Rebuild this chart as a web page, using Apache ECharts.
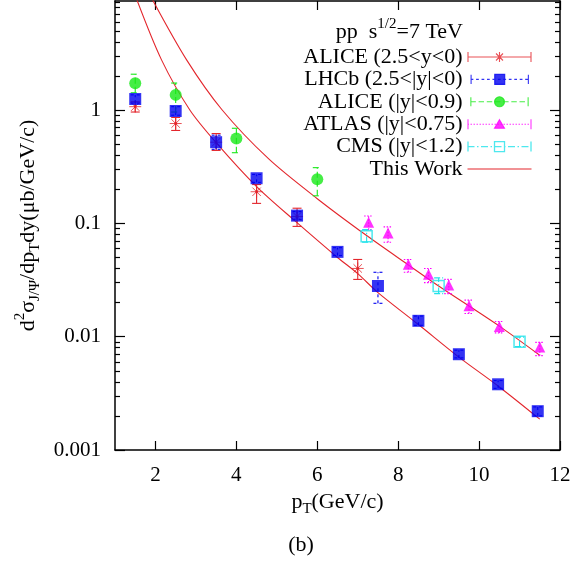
<!DOCTYPE html>
<html><head><meta charset="utf-8">
<script src="https://cdn.jsdelivr.net/npm/echarts@6/dist/echarts.min.js"></script>
<style>html,body{margin:0;padding:0;background:#fff}#c{width:579px;height:561px}</style>
</head><body><div id="c"></div>
<script>
// ---------------- data ----------------
const aliceFwdX  = [1.5, 2.5, 3.5, 4.5, 5.5, 7.0];
const aliceFwdY  = [1.07, 0.76, 0.52, 0.19, 0.115, 0.040];
const aliceFwdLo = [0.96, 0.66, 0.44, 0.15, 0.094, 0.032];
const aliceFwdHi = [1.18, 0.86, 0.62, 0.22, 0.136, 0.048];

const lhcbX  = [1.5, 2.5, 3.5, 4.5, 5.5, 6.5, 7.5, 8.5, 9.5, 10.47, 11.45];
const lhcbY  = [1.25, 0.98, 0.52, 0.25, 0.117, 0.056, 0.028, 0.0138, 0.0070, 0.0038, 0.0022];
const lhcbLo = [1.15, 0.90, 0.45, 0.23, 0.108, 0.052, 0.0197, 0.0126, 0.0065, 0.0035, 0.0020];
const lhcbHi = [1.36, 1.07, 0.60, 0.27, 0.127, 0.061, 0.037, 0.0152, 0.0076, 0.0041, 0.0024];

const aliceMidX  = [1.5, 2.5, 4.0, 6.0];
const aliceMidY  = [1.72, 1.36, 0.56, 0.245];
const aliceMidLo = [1.42, 0.96, 0.42, 0.175];
const aliceMidHi = [2.07, 1.73, 0.69, 0.31];

const atlasX  = [7.27, 7.75, 8.25, 8.75, 9.25, 9.75, 10.5, 11.5];
const atlasY  = [0.102, 0.082, 0.0436, 0.0356, 0.0285, 0.0187, 0.0123, 0.0081];
const atlasLo = [0.088, 0.068, 0.037, 0.030, 0.024, 0.016, 0.0108, 0.0068];
const atlasHi = [0.116, 0.093, 0.048, 0.040, 0.032, 0.021, 0.0136, 0.0089];

const cmsX  = [7.22, 9.0, 11.0];
const cmsY  = [0.077, 0.028, 0.009];
const cmsLo = [0.068, 0.024, 0.0082];
const cmsHi = [0.088, 0.033, 0.0099];

const workLowX  = [1.54, 2.15, 2.85, 3.51, 4.5, 5.45, 6.5, 7.0, 7.5, 8.5, 9.5, 10.5, 11.5];
const workLowY  = [9.4, 2.77, 1.0, 0.51, 0.211, 0.105, 0.050, 0.036, 0.0245, 0.0128, 0.0066, 0.0036, 0.00187];
const workHighX = [1.93, 2.77, 3.65, 4.8, 6.0, 7.22, 8.25, 9.0, 10.5, 11.49];
const workHighY = [9.35, 2.77, 1.0, 0.37, 0.165, 0.078, 0.043, 0.028, 0.0124, 0.0069];

const xTicks = [2, 4, 6, 8, 10, 12];
const yTicks = [0.001, 0.01, 0.1, 1];
const yTickLabels = ['0.001', '0.01', '0.1', '1'];
const yMinorTicks = [0.002,0.003,0.004,0.005,0.006,0.007,0.008,0.009,
                     0.02,0.03,0.04,0.05,0.06,0.07,0.08,0.09,
                     0.2,0.3,0.4,0.5,0.6,0.7,0.8,0.9,
                     2,3,4,5,6,7,8,9];
const names = ['ALICE (2.5<y<0)', 'LHCb (2.5<|y|<0)', 'ALICE (|y|<0.9)', 'ATLAS (|y|<0.75)', 'CMS (|y|<1.2)', 'This Work'];

// ---------------- style ----------------
const F = "'Liberation Serif','Times New Roman',serif";
const RED = '#e3262c', BLUE = '#0000f0', GREEN = '#18e818', MAG = '#ff00ff', CYAN = '#22e2ea';
const X_MIN = 1, X_MAX = 12, Y_MIN = 0.001, Y_MAX = 9.16;

const rich = {
  n:  {fontFamily: F, fontSize: 22, fontWeight: 'normal', color: '#000', lineHeight: 30},
  sp: {fontFamily: F, fontSize: 15, fontWeight: 'normal', color: '#000', lineHeight: 15, verticalAlign: 'top'},
  sb: {fontFamily: F, fontSize: 15, fontWeight: 'normal', color: '#000', lineHeight: 15, verticalAlign: 'bottom'}
};

function pts(xs, ys) { return xs.map((x, i) => [x, ys[i]]); }

function errSeries(name, xs, lo, hi, color, dash) {
  return {
    type: 'custom', name: name + ' err', silent: true, z: 2, clip: true,
    data: xs.map((x, i) => [x, lo[i], hi[i]]),
    encode: {x: 0, y: [1, 2]},
    renderItem: function (params, api) {
      const p1 = api.coord([api.value(0), api.value(1)]);
      const p2 = api.coord([api.value(0), api.value(2)]);
      const w = 4.5;
      const style = {stroke: color, lineWidth: 1.1, fill: null, lineDash: dash || null};
      return {type: 'group', children: [
        {type: 'line', shape: {x1: p1[0], y1: p1[1], x2: p2[0], y2: p2[1]}, style: style},
        {type: 'line', shape: {x1: p1[0] - w, y1: p1[1], x2: p1[0] + w, y2: p1[1]}, style: style},
        {type: 'line', shape: {x1: p2[0] - w, y1: p2[1], x2: p2[0] + w, y2: p2[1]}, style: style}
      ]};
    }
  };
}

function dashes(pattern) { // dashed horizontal line path between x=0..64 at y=5
  let s = '', x = 0, k = 0, on = true;
  while (x < 64) {
    const len = pattern[k % pattern.length];
    const x2 = Math.min(64, x + len);
    if (on) s += 'M' + x.toFixed(2) + ' 5L' + x2.toFixed(2) + ' 5';
    x = x2; k++; on = !on;
  }
  return s;
}
const caps = 'M0.5 0L0.5 10M63.5 0L63.5 10';
const iconAlice = 'path://' + caps + 'M0 5L64 5M32 0L32 10M27 5L37 5M28.5 1.5L35.5 8.5M35.5 1.5L28.5 8.5';
const iconLhcb  = 'path://' + caps + dashes([3, 3]) + 'M26.5 -0.5L37.5 -0.5L37.5 10.5L26.5 10.5Z';
const iconGreen = 'path://' + caps + dashes([6, 3]) + 'M26.5 5A5.5 5.5 0 1 0 37.5 5A5.5 5.5 0 1 0 26.5 5Z';
const iconAtlas = 'path://' + caps + dashes([1.5, 1.5]) + 'M32 0.5L37 9L27 9Z';
const iconCms   = 'path://' + caps + dashes([7, 2.5, 1.5, 2.5]) + 'M27 0L37 0L37 10L27 10Z';
const iconWork  = 'path://M0 0L0 0.01M64 10L64 9.99M0 5L64 5';

const option = {
  animation: false,
  backgroundColor: '#fff',
  title: [
    {text: '{n|pp  s}{sp|1/2}{n|=7 TeV}', right: 116, top: 17, padding: 0,
     textStyle: {fontWeight: 'normal', rich: rich}},
    {text: '(b)', left: 301, top: 534, textAlign: 'center', padding: 0,
     textStyle: {fontFamily: F, fontSize: 22, color: '#000', fontWeight: 'normal'}}
  ],
  grid: {left: 115, right: 19, top: 1, bottom: 111, containLabel: false},
  legend: {
    orient: 'vertical', right: 45, top: 46, align: 'right', padding: 0,
    itemWidth: 64, itemHeight: 10, itemGap: 0.4,
    textStyle: {fontFamily: F, fontSize: 22, color: '#000', lineHeight: 22},
    selectedMode: false,
    data: [
      {name: names[0], icon: iconAlice, itemStyle: {color: 'none', borderColor: RED, borderWidth: 1.1}},
      {name: names[1], icon: iconLhcb,  itemStyle: {color: BLUE, borderColor: BLUE, borderWidth: 1.1}},
      {name: names[2], icon: iconGreen, itemStyle: {color: GREEN, borderColor: GREEN, borderWidth: 1.1}},
      {name: names[3], icon: iconAtlas, itemStyle: {color: MAG, borderColor: MAG, borderWidth: 1.1}},
      {name: names[4], icon: iconCms,   itemStyle: {color: 'none', borderColor: CYAN, borderWidth: 1.3}},
      {name: names[5], icon: iconWork,  itemStyle: {color: 'none', borderColor: RED, borderWidth: 1.2}}
    ]
  },
  xAxis: [
    {type: 'value', position: 'bottom', min: X_MIN, max: X_MAX,
     name: '{n|p}{sb|T}{n|(GeV/c)}', nameLocation: 'middle', nameGap: 37,
     nameTextStyle: {rich: rich},
     axisLine: {show: true, lineStyle: {color: '#000', width: 1.5}},
     axisTick: {show: true, inside: true, length: 9, customValues: xTicks, lineStyle: {color: '#000', width: 1.2}},
     axisLabel: {show: true, customValues: xTicks, margin: 15, fontFamily: F, fontSize: 21, color: '#000'},
     splitLine: {show: false}},
    {type: 'value', position: 'top', min: X_MIN, max: X_MAX,
     axisLine: {show: true, lineStyle: {color: '#000', width: 1.5}},
     axisTick: {show: true, inside: true, length: 9, customValues: xTicks, lineStyle: {color: '#000', width: 1.2}},
     axisLabel: {show: false}, splitLine: {show: false}}
  ],
  yAxis: [
    {type: 'log', logBase: 10, position: 'left', min: Y_MIN, max: Y_MAX,
     name: '{n|d}{sp|2}{n|σ}{sb|J/Ψ}{n|/dp}{sb|T}{n|dy(μb/GeV/c)}',
     nameLocation: 'middle', nameGap: 71, nameTextStyle: {rich: rich},
     axisLine: {show: true, lineStyle: {color: '#000', width: 1.5}},
     axisTick: {show: true, inside: true, length: 10, customValues: yTicks, lineStyle: {color: '#000', width: 1.2}},
     axisLabel: {show: true, customValues: yTicks, margin: 14, fontFamily: F, fontSize: 21, color: '#000',
       formatter: function (v) {
         const i = yTicks.findIndex(t => Math.abs(Math.log10(t) - Math.log10(v)) < 1e-6);
         return i >= 0 ? yTickLabels[i] : '';
       }},
     splitLine: {show: false}},
    {type: 'log', logBase: 10, position: 'left', min: Y_MIN, max: Y_MAX,
     axisLine: {show: false},
     axisTick: {show: true, inside: true, length: 5, customValues: yMinorTicks, lineStyle: {color: '#000', width: 1.2}},
     axisLabel: {show: false}, splitLine: {show: false}},
    {type: 'log', logBase: 10, position: 'right', min: Y_MIN, max: Y_MAX,
     axisLine: {show: true, lineStyle: {color: '#000', width: 1.5}},
     axisTick: {show: true, inside: true, length: 10, customValues: yTicks, lineStyle: {color: '#000', width: 1.2}},
     axisLabel: {show: false}, splitLine: {show: false}},
    {type: 'log', logBase: 10, position: 'right', min: Y_MIN, max: Y_MAX,
     axisLine: {show: false},
     axisTick: {show: true, inside: true, length: 5, customValues: yMinorTicks, lineStyle: {color: '#000', width: 1.2}},
     axisLabel: {show: false}, splitLine: {show: false}}
  ],
  series: [
    {type: 'line', name: names[5], data: pts(workLowX, workLowY), symbol: 'none', smooth: 0.3, z: 1,
     lineStyle: {color: RED, width: 1.1}, itemStyle: {color: RED}},
    {type: 'line', name: names[5], data: pts(workHighX, workHighY), symbol: 'none', smooth: 0.3, z: 1,
     lineStyle: {color: RED, width: 1.1}, itemStyle: {color: RED}},
    errSeries(names[0], aliceFwdX, aliceFwdLo, aliceFwdHi, RED, null),
    errSeries(names[1], lhcbX, lhcbLo, lhcbHi, BLUE, [3, 3]),
    errSeries(names[2], aliceMidX, aliceMidLo, aliceMidHi, GREEN, [6, 3]),
    errSeries(names[3], atlasX, atlasLo, atlasHi, MAG, [1.5, 1.5]),
    errSeries(names[4], cmsX, cmsLo, cmsHi, CYAN, [6, 2, 1.5, 2]),
    {type: 'scatter', name: names[0], data: pts(aliceFwdX, aliceFwdY), z: 3,
     symbol: 'path://M5 0L5 10M0 5L10 5M1.5 1.5L8.5 8.5M8.5 1.5L1.5 8.5M4.3 4.3L5.7 4.3L5.7 5.7L4.3 5.7Z', symbolSize: 12,
     itemStyle: {color: RED, borderColor: RED, borderWidth: 1}},
    {type: 'scatter', name: names[1], data: pts(lhcbX, lhcbY), z: 3, symbol: 'rect', symbolSize: 12,
     itemStyle: {color: BLUE}},
    {type: 'scatter', name: names[2], data: pts(aliceMidX, aliceMidY), z: 3, symbol: 'circle', symbolSize: 12,
     itemStyle: {color: GREEN}},
    {type: 'scatter', name: names[3], data: pts(atlasX, atlasY), z: 3, symbol: 'triangle', symbolSize: 11,
     itemStyle: {color: MAG}},
    {type: 'scatter', name: names[4], data: pts(cmsX, cmsY), z: 3, symbol: 'rect', symbolSize: 11,
     itemStyle: {color: 'none', borderColor: CYAN, borderWidth: 1.5}}
  ]
};
const chart = echarts.init(document.getElementById('c'), null, {renderer: 'canvas'});
chart.setOption(option);
</script>
</body></html>
